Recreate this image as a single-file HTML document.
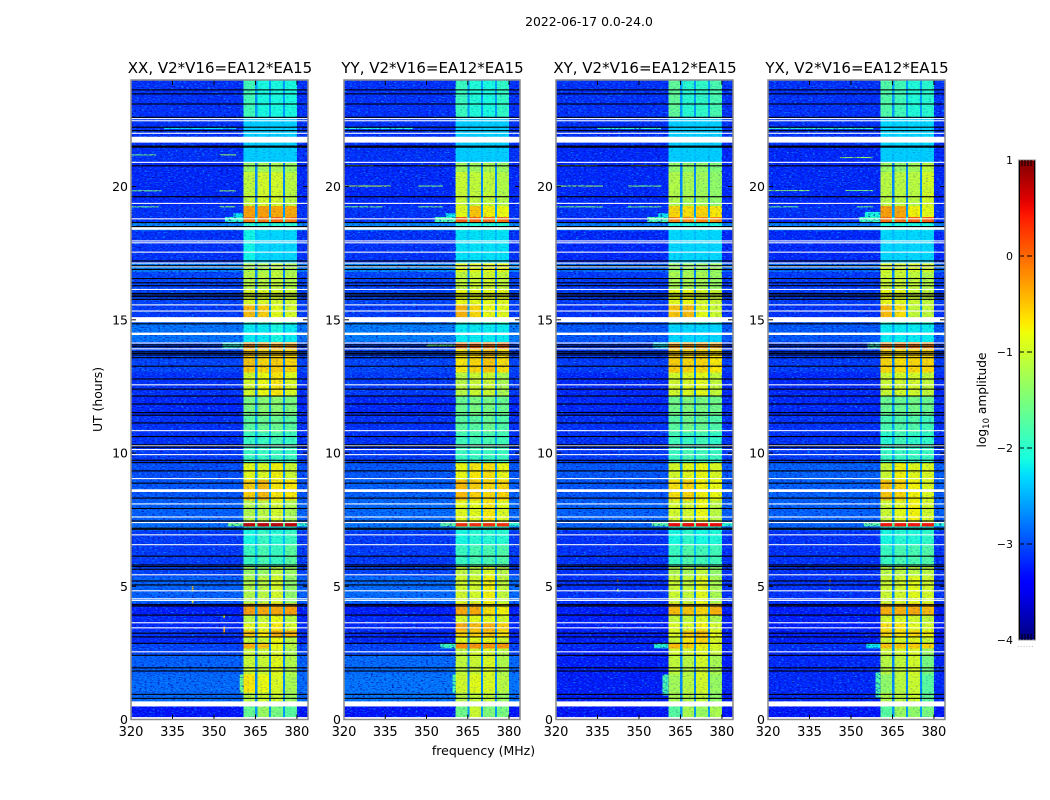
<!DOCTYPE html>
<html lang="en">
<head>
<meta charset="utf-8">
<title>2022-06-17 0.0-24.0</title>
<style>
html,body{margin:0;padding:0;background:#fff;}
svg{display:block;}
text{font-family:"DejaVu Sans","Liberation Sans",sans-serif;fill:#000;}
</style>
</head>
<body>
<svg id="figure" xmlns="http://www.w3.org/2000/svg" width="1050" height="800" viewBox="0 0 1050 800">
<defs>
<filter id="speckle-light" x="0" y="0" width="100%" height="100%" color-interpolation-filters="sRGB">
<feTurbulence type="fractalNoise" baseFrequency="0.38 0.8" numOctaves="2" seed="7"/>
<feColorMatrix type="matrix" values="0 0 0 0 0.05  0 0 0 0 0.62  0 0 0 0 1  3 0 0 0 -1.6"/>
</filter>
<filter id="speckle-dark" x="0" y="0" width="100%" height="100%" color-interpolation-filters="sRGB">
<feTurbulence type="fractalNoise" baseFrequency="0.38 0.8" numOctaves="2" seed="23"/>
<feColorMatrix type="matrix" values="0 0 0 0 0  0 0 0 0 0.02  0 0 0 0 0.62  3 0 0 0 -1.6"/>
</filter>
<linearGradient id="jet-gradient" x1="0" y1="1" x2="0" y2="0"></linearGradient>
</defs>
<rect x="0" y="0" width="1050" height="800" fill="#fff"/>
<text x="589" y="26" font-size="12.4" text-anchor="middle">2022-06-17 0.0-24.0</text>
<text x="483.5" y="755" font-size="12.5" text-anchor="middle">frequency (MHz)</text>
<text x="0" y="0" font-size="12.4" text-anchor="middle" transform="translate(102 399.5) rotate(-90)">UT (hours)</text>
<text x="0" y="0" font-size="12.2" text-anchor="middle" transform="translate(986 400) rotate(-90)">log<tspan font-size="8.5" dy="3">10</tspan><tspan dy="-3"> amplitude</tspan></text>
</svg>
<script>
const polarizations = ['XX', 'YY', 'XY', 'YX'];
const baselineLabel = 'V2*V16=EA12*EA15';
const freqTicks = [320, 335, 350, 365, 380];
const hourTicks = [0, 5, 10, 15, 20];
const colorbarTicks = [-4, -3, -2, -1, 0, 1];

/* spectral windows, MHz */
const windowStartMHz = [360.6, 365.7, 370.6, 375.6];
const windowEndMHz = [364.9, 369.9, 374.9, 380];

/* time blocks: start of each block, UT hours */
const rowStartHours = [0,0.49,1.01,1.69,2.44,2.67,2.85,3.12,3.34,3.64,3.94,4.36,5.37,5.75,6.53,7.1,7.25,7.4,8.22,8.98,9.65,10.1,10.78,11.42,12.13,13.03,13.93,14.16,14.9,15.55,16.11,16.79,17.16,18.36,18.67,18.86,19.27,20.55,20.89,21.53,22.6];

/* log10 amplitude in the channels between the windows */
const gapLevels = [-2.6,-2.7,-2.7,-2.7,-2.7,-2.6,-2.7,-2.7,-2.7,-2.7,-2.6,-2.7,-2.7,-2.4,-2.4,-2.4,-1.6,-2.6,-2.6,-2.6,-2.5,-2.5,-2.5,-2.6,-2.7,-2.7,-2.3,-2.5,-2.6,-2.7,-2.7,-2.7,-2.4,-2.4,-2.0,-2.6,-2.7,-2.7,-2.4,-2.4,-2.6];

/* log10 amplitude of the off-window channels */
const xxBackground = [-3.3,-2.85,-2.85,-2.9,-3.05,-3.05,-3.2,-3.15,-3.2,-3.2,-3.25,-2.9,-3.05,-3.1,-3.1,-2.8,-2.85,-2.9,-2.95,-3.0,-3.1,-3.15,-3.15,-3.2,-3.15,-3.05,-3.05,-2.8,-3.1,-3.05,-3.05,-2.75,-3.15,-2.7,-3.15,-3.15,-3.2,-3.2,-3.15,-3.15,-3.15];
const yyBackground = [-3.3,-2.8,-2.8,-2.85,-3.05,-3.05,-3.2,-3.2,-3.2,-3.2,-3.25,-2.85,-3.05,-3.1,-3.1,-2.75,-2.8,-2.85,-2.9,-2.95,-3.1,-3.15,-3.15,-3.2,-3.1,-3.05,-3.05,-2.75,-3.1,-3.05,-3.05,-2.7,-3.15,-2.7,-3.15,-3.15,-3.2,-3.2,-3.15,-3.15,-3.15];
const xyBackground = [-3.3,-3.25,-3.25,-3.25,-3.25,-3.2,-3.25,-3.25,-3.25,-3.25,-3.25,-3.15,-3.15,-3.15,-3.15,-2.85,-2.9,-2.9,-2.95,-2.95,-3.1,-3.15,-3.15,-3.2,-3.2,-3.1,-3.1,-2.95,-3.15,-3.1,-3.1,-2.85,-3.2,-2.75,-3.2,-3.15,-3.2,-3.2,-3.2,-3.15,-3.15];
const yxBackground = [-3.3,-3.2,-3.2,-3.2,-3.2,-3.15,-3.25,-3.25,-3.25,-3.25,-3.25,-3.15,-3.15,-3.15,-3.15,-2.85,-2.9,-2.9,-2.9,-2.9,-3.1,-3.15,-3.15,-3.2,-3.2,-3.1,-3.1,-2.95,-3.15,-3.1,-3.1,-2.85,-3.2,-2.75,-3.2,-3.15,-3.2,-3.2,-3.2,-3.15,-3.15];

/* log10 amplitude of each spectral window, one quadruple per time block */
const xxWindows = [[-1.6,-1.3,-1.5,-1.7],[-1.1,-1.0,-1.0,-1.3],[-0.7,-0.8,-0.9,-1.2],[-1.0,-1.0,-0.85,-1.15],[-1.0,-1.0,-0.9,-1.2],[-0.4,-0.5,-0.8,-1.1],[-1.0,-1.0,-0.8,-1.1],[-0.5,-0.7,-0.4,-0.4],[-0.85,-0.85,-0.7,-0.9],[-1.1,-1.0,-0.8,-1.1],[-0.3,-0.35,-0.35,-0.3],[-1.15,-1.1,-0.95,-1.35],[-1.3,-1.3,-1.1,-1.3],[-1.9,-1.8,-1.9,-1.7],[-2.1,-1.9,-2.0,-1.9],[-2.1,-2.1,-2.2,-2.1],[0.7,0.7,0.7,0.7],[-1.15,-1.1,-0.95,-1.2],[-0.55,-0.45,-0.7,-0.7],[-0.85,-0.9,-0.75,-1.0],[-1.9,-1.9,-1.9,-1.9],[-1.9,-1.9,-1.8,-1.9],[-1.7,-1.6,-1.6,-1.7],[-1.5,-1.4,-1.4,-1.5],[-0.95,-0.8,-0.7,-0.9],[-0.5,-0.6,-0.55,-0.6],[-0.2,-0.3,-0.3,-0.3],[-2.2,-2.2,-2.1,-2.2],[-0.45,-0.55,-0.85,-0.95],[-0.9,-0.9,-0.95,-1.0],[-1.1,-1.1,-1.05,-1.15],[-1.2,-1.2,-1.1,-1.2],[-2.15,-2.3,-2.3,-2.3],[-2.0,-2.0,-2.0,-2.0],[-0.1,-0.1,0,-0.1],[-0.3,-0.3,-0.35,-0.35],[-1.05,-0.95,-0.95,-1.1],[-1.3,-1.25,-1.2,-1.3],[-2.35,-2.35,-2.35,-2.35],[-2.35,-2.35,-2.35,-2.35],[-1.85,-2.1,-2.1,-2.1]];
const yyWindows = [[-1.55,-1.0,-1.45,-1.5],[-1.1,-1.05,-1.05,-1.3],[-0.95,-0.85,-0.9,-1.1],[-1.05,-1.0,-0.9,-1.15],[-1.05,-0.95,-0.9,-1.1],[-0.2,-0.25,-0.25,-0.25],[-0.85,-0.85,-0.8,-0.95],[-0.55,-0.55,-0.5,-0.65],[-0.35,-0.45,-0.4,-0.55],[-0.9,-0.85,-0.85,-0.95],[-0.35,-0.35,-0.65,-0.75],[-0.95,-0.95,-0.75,-1.05],[-1.05,-1.1,-0.9,-1.1],[-1.9,-1.8,-1.8,-1.75],[-2.1,-2.0,-2.0,-2.0],[-2.0,-2.0,-2.0,-2.0],[0.3,0.3,0.3,0.3],[-0.85,-0.85,-0.7,-0.9],[-0.45,-0.55,-0.6,-0.6],[-0.8,-0.7,-0.65,-0.8],[-1.9,-1.9,-1.9,-1.9],[-1.85,-1.8,-1.8,-1.85],[-1.7,-1.7,-1.6,-1.75],[-1.6,-1.5,-1.5,-1.6],[-1.1,-1.0,-1.0,-1.2],[-0.7,-0.6,-0.5,-0.65],[-0.05,0,-0.1,-0.05],[-2.2,-2.2,-2.2,-2.2],[-0.4,-0.6,-0.8,-0.85],[-0.8,-0.85,-0.85,-0.85],[-1.05,-1.0,-0.95,-1.05],[-0.85,-0.85,-0.85,-0.85],[-2.25,-2.25,-2.25,-2.25],[-2.05,-2.05,-2.05,-2.05],[0.05,0,-0.05,-0.05],[-0.85,-0.5,-0.75,-0.8],[-1.0,-1.05,-1.05,-1.15],[-1.25,-1.25,-1.2,-1.3],[-2.35,-2.35,-2.35,-2.35],[-2.35,-2.35,-2.35,-2.35],[-1.9,-2.05,-2.1,-1.95]];
const xyWindows = [[-1.7,-1.2,-1.3,-1.2],[-1.2,-1.15,-1.05,-1.35],[-1.25,-1.1,-0.95,-1.3],[-1.05,-1.1,-0.95,-1.2],[-0.95,-0.95,-0.85,-1.0],[-0.45,-0.55,-0.75,-0.9],[-1.0,-0.7,-0.6,-0.9],[-0.9,-0.55,-0.5,-0.85],[-0.9,-0.9,-0.75,-0.95],[-1.05,-1.05,-0.9,-1.15],[-0.45,-0.5,-0.6,-0.4],[-1.0,-1.05,-0.85,-1.2],[-1.15,-1.2,-1.05,-1.35],[-1.9,-1.75,-1.85,-1.85],[-2.1,-1.95,-2.1,-2.05],[-2.1,-2.1,-2.1,-2.1],[0.5,0.5,0.5,0.5],[-0.95,-0.95,-0.8,-1.1],[-0.65,-0.6,-0.75,-0.8],[-0.95,-0.85,-0.8,-0.9],[-1.9,-1.8,-1.85,-1.9],[-1.85,-1.9,-1.85,-1.95],[-1.7,-1.55,-1.6,-1.75],[-1.55,-1.45,-1.5,-1.55],[-0.95,-0.9,-0.85,-1.05],[-0.55,-0.6,-0.6,-0.7],[-0.3,-0.3,-0.3,-0.35],[-2.3,-2.3,-2.3,-2.3],[-0.5,-0.45,-0.85,-1.0],[-0.85,-0.8,-0.95,-1.0],[-1.2,-1.2,-1.2,-1.3],[-1.3,-1.3,-1.3,-1.3],[-2.3,-2.3,-2.3,-2.3],[-2.1,-2.1,-2.1,-2.1],[-0.15,-0.2,-0.15,-0.2],[-0.6,-0.65,-0.6,-0.7],[-1.15,-1.2,-1.25,-1.35],[-1.35,-1.35,-1.35,-1.45],[-2.35,-2.35,-2.35,-2.35],[-2.35,-2.35,-2.35,-2.35],[-1.65,-2.0,-1.95,-1.8]];
const yxWindows = [[-1.7,-1.3,-1.35,-1.5],[-1.15,-1.1,-1.0,-1.65],[-1.35,-1.1,-1.0,-1.7],[-1.1,-1.05,-0.95,-1.5],[-1.0,-0.95,-0.9,-1.3],[-0.5,-0.55,-0.55,-0.6],[-0.95,-0.9,-0.85,-1.0],[-0.6,-0.65,-0.6,-0.75],[-0.65,-0.7,-0.85,-0.95],[-0.95,-0.9,-0.95,-1.05],[-0.4,-0.4,-0.35,-0.45],[-1.0,-0.95,-0.85,-0.95],[-1.1,-1.1,-1.1,-1.1],[-1.9,-1.8,-1.8,-1.75],[-2.1,-2.0,-2.05,-1.95],[-2.1,-2.1,-2.1,-2.1],[0.45,0.45,0.45,0.45],[-1.0,-0.85,-0.75,-0.95],[-0.5,-0.6,-0.75,-0.9],[-1.0,-0.75,-0.85,-0.9],[-1.9,-1.9,-1.9,-1.9],[-2.0,-1.85,-1.95,-1.95],[-1.8,-1.75,-1.75,-1.85],[-1.6,-1.6,-1.55,-1.6],[-1.0,-0.95,-0.95,-1.05],[-0.6,-0.65,-0.6,-0.6],[-0.15,-0.1,-0.1,-0.15],[-2.2,-2.2,-2.2,-2.2],[-0.45,-0.65,-1.05,-1.05],[-0.8,-0.85,-1.0,-1.05],[-1.0,-1.0,-1.05,-1.15],[-0.95,-0.95,-0.95,-0.95],[-2.3,-2.3,-2.3,-2.3],[-2.1,-2.1,-2.1,-2.1],[-0.05,-0.05,0.05,0.05],[-0.3,-0.35,-0.75,-0.85],[-1.1,-1.1,-1.1,-0.95],[-1.3,-1.35,-1.25,-1.1],[-2.35,-2.35,-2.35,-2.35],[-2.3,-2.3,-2.3,-2.3],[-1.75,-1.85,-2.05,-2.0]];

/* interference features: start hour, end hour, start MHz, end MHz, log10 amplitude */
const xxFeatures = [[7.25,7.4,355,360.6,-1.6],[7.25,7.4,380,384,-2.0],[18.67,18.86,354,360.6,-2.0],[18.86,19.0,357,360.6,-2.2],[1.01,1.69,359.3,360.6,-1.6],[13.93,14.16,353,360.6,-2.0],[22.16,22.2,332,358,-2.2],[21.17,21.21,320,329,-1.5],[21.17,21.21,352,358,-1.3],[19.82,19.86,320,331,-1.5],[19.82,19.86,352,358,-1.3],[19.22,19.26,320,330,-1.5],[19.22,19.26,352,358,-1.4],[3.2,3.5,353.4,354,-0.3],[3.8,3.9,353.4,354,-0.8],[4.8,5.0,342,342.6,-0.5],[4.35,4.45,342,342.6,-0.8]];
const yyFeatures = [[7.25,7.4,355,360.6,-1.7],[7.25,7.4,380,384,-2.0],[18.67,18.86,353,360.6,-1.8],[18.86,19.0,357,360.6,-2.2],[1.01,1.69,359.5,360.6,-1.8],[2.67,2.85,355,360.6,-1.9],[14.0,14.09,350,360.6,-1.6],[22.16,22.2,320,345,-2.0],[20.77,20.81,320,331,-1.4],[20.77,20.81,347,356,-1.3],[20.0,20.04,320,337,-1.1],[20.0,20.04,347,356,-1.4],[19.22,19.26,320,334,-1.5],[19.22,19.26,347,356,-1.5]];
const xyFeatures = [[7.25,7.4,354.6,360.6,-1.7],[7.25,7.4,380,384,-2.0],[18.67,18.86,353,360.6,-1.8],[18.86,19.0,357,360.6,-2.2],[0.9,1.69,358.5,360.6,-1.8],[2.67,2.85,355.5,360.6,-2.0],[13.93,14.16,355,360.6,-2.2],[22.16,22.2,335,358,-1.9],[20.77,20.81,320,335,-1.2],[20.77,20.81,347,358,-1.1],[20.0,20.04,320,337,-1.3],[20.0,20.04,346,358,-1.5],[19.22,19.26,320,337,-1.5],[19.22,19.26,346,358,-1.5],[5.15,5.25,342,342.6,-0.1],[4.8,4.9,342,342.6,-1.2]];
const yxFeatures = [[7.25,7.4,354.6,360.6,-1.7],[7.25,7.4,380,384,-2.0],[18.67,18.86,353,360.6,-1.9],[18.86,19.05,355,360.6,-2.1],[0.83,1.77,358.9,360.6,-1.8],[2.67,2.85,355.5,360.6,-2.2],[13.93,14.16,356,360.6,-1.9],[22.16,22.2,320,358,-1.9],[21.07,21.11,346,358,-1.3],[19.83,19.87,320,335,-1.4],[19.83,19.87,348,358,-1.5],[19.22,19.26,320,331,-1.6],[19.22,19.26,352,358,-1.6],[5.15,5.25,342,342.6,-0.1],[4.8,4.9,342,342.6,-1.2]];

/* flagged data: white = no data, start and end in UT hours */
const blankStartHours = [0,0.49,2.52,3.42,3.61,4.45,4.51,4.81,5.41,6.54,6.91,7.37,7.58,8.07,8.54,9.02,9.92,10.11,10.26,10.82,12.54,13.89,14.11,14.43,14.91,15.31,15.54,16.12,16.97,17.11,17.52,17.87,17.94,18.38,18.77,19.35,20.89,21.65,21.98,22.45,22.53];
const blankEndHours = [0.09,0.68,2.56,3.46,3.65,4.49,4.55,4.85,5.45,6.58,6.95,7.41,7.62,8.11,8.64,9.06,9.96,10.15,10.3,10.86,12.58,13.93,14.15,14.52,15.1,15.35,15.58,16.16,17.01,17.15,17.56,17.91,17.98,18.48,18.81,19.39,20.93,21.87,22.02,22.49,22.57];

/* flagged data: black = zero amplitude, UT hours */
const zeroRowHours = [0.815,0.965,1.84,1.96,2.43,2.88,3.12,3.26,3.94,4.28,4.33,5.07,5.22,5.66,5.76,5.82,6.15,7.16,7.2,7.47,7.94,8.33,8.89,9.35,9.66,9.75,10.24,10.33,10.64,11.15,11.44,11.54,11.86,12.16,12.42,12.8,13.28,13.6,13.7,13.76,13.82,14.01,14.08,14.87,15.79,15.89,15.95,16.01,16.3,16.41,16.57,16.91,17.05,17.23,18.52,18.67,19.64,20.8,21.5,21.54,22.12,22.25,22.62,23.12,23.5,23.65];

const backgroundsByPol = [xxBackground, yyBackground, xyBackground, yxBackground];
const windowsByPol = [xxWindows, yyWindows, xyWindows, yxWindows];
const featuresByPol = [xxFeatures, yyFeatures, xyFeatures, yxFeatures];

const NS = 'http://www.w3.org/2000/svg';
const fig = document.getElementById('figure');
const panelLeft = [131, 344, 556, 768];
const panelRight = [308, 520, 733, 945];
const panelTop = 80;
const panelBottom = 719.5;
const FREQ_MIN = 320, FREQ_MAX = 384, HOUR_MIN = 0, HOUR_MAX = 24;
const LEVEL_MIN = -4, LEVEL_MAX = 1;

function xScale(p, mhz) {
  return panelLeft[p] + (mhz - FREQ_MIN) / (FREQ_MAX - FREQ_MIN) * (panelRight[p] - panelLeft[p]);
}
function yScale(hour) {
  return panelBottom - (hour - HOUR_MIN) / (HOUR_MAX - HOUR_MIN) * (panelBottom - panelTop);
}
function ramp(t, pts) {
  if (t <= pts[0][0]) return pts[0][1];
  for (let i = 1; i < pts.length; i++) {
    if (t <= pts[i][0]) {
      const a = pts[i - 1], b = pts[i];
      return a[1] + (b[1] - a[1]) * (t - a[0]) / (b[0] - a[0]);
    }
  }
  return pts[pts.length - 1][1];
}
const jetR = [[0, 0], [0.35, 0], [0.66, 1], [0.89, 1], [1, 0.5]];
const jetG = [[0, 0], [0.125, 0], [0.375, 1], [0.64, 1], [0.91, 0], [1, 0]];
const jetB = [[0, 0.5], [0.11, 1], [0.34, 1], [0.65, 0], [1, 0]];
function colorScale(level) {
  const t = Math.max(0, Math.min(1, (level - LEVEL_MIN) / (LEVEL_MAX - LEVEL_MIN)));
  const c = [jetR, jetG, jetB].map(function (s) { return Math.round(ramp(t, s) * 255); });
  return 'rgb(' + c.join(',') + ')';
}
function make(tag, attrs, parent) {
  const el = document.createElementNS(NS, tag);
  for (const k in attrs) el.setAttribute(k, attrs[k]);
  (parent || fig).appendChild(el);
  return el;
}

polarizations.forEach(function (pol, p) {
  const panel = make('g', {});
  
  

  const bg = backgroundsByPol[p];
  const win = windowsByPol[p];

  rowStartHours.forEach(function (start, r) {
    const end = r + 1 < rowStartHours.length ? rowStartHours[r + 1] : HOUR_MAX;
    const yTop = yScale(end);
    const h = yScale(start) - yTop;
    const segments = [[FREQ_MIN, windowStartMHz[0], bg[r]]];
    windowStartMHz.forEach(function (ws, w) {
      segments.push([ws, windowEndMHz[w], win[r][w]]);
      const next = w + 1 < windowStartMHz.length ? windowStartMHz[w + 1] : null;
      if (next !== null) segments.push([windowEndMHz[w], next, gapLevels[r]]);
    });
    segments.push([windowEndMHz[3], FREQ_MAX, bg[r]]);
    segments.forEach(function (s) {
      const x0 = xScale(p, s[0]);
      const cell = make('rect', { x: x0, y: yTop, width: xScale(p, s[1]) - x0, height: h, fill: colorScale(s[2]), 'shape-rendering': 'crispEdges' }, panel);
      
      
    });
  });

  featuresByPol[p].forEach(function (f) {
    const x0 = xScale(p, f[2]);
    const yTop = yScale(f[1]);
    const mark = make('rect', { x: x0, y: yTop, width: xScale(p, f[3]) - x0, height: Math.max(1, yScale(f[0]) - yTop), fill: colorScale(f[4]) }, panel);
    
    
  });

  const texLeft = panelLeft[p];
  const texWidth = panelRight[p] - panelLeft[p];
  const texHeight = panelBottom - panelTop;
  const winX = xScale(p, windowStartMHz[0]);
  const winW = xScale(p, windowEndMHz[3]) - winX;
  ['speckle-light', 'speckle-dark'].forEach(function (filterId) {
    const sideA = make('rect', { x: texLeft, y: panelTop, width: winX - texLeft, height: texHeight, filter: 'url(#' + filterId + ')' }, panel);
    
    
    const sideB = make('rect', { x: winX + winW, y: panelTop, width: texLeft + texWidth - winX - winW, height: texHeight, filter: 'url(#' + filterId + ')' }, panel);
    
    
    const mid = make('rect', { x: winX, y: panelTop, width: winW, height: texHeight, filter: 'url(#' + filterId + ')', opacity: 0.3 }, panel);
    
    
  });

  blankStartHours.forEach(function (start, i) {
    const yTop = yScale(blankEndHours[i]);
    const blank = make('rect', { x: panelLeft[p], y: yTop, width: panelRight[p] - panelLeft[p], height: yScale(start) - yTop, fill: '#fff' }, panel);
    
    
  });

  zeroRowHours.forEach(function (hour) {
    const zero = make('rect', { x: panelLeft[p], y: yScale(hour), width: panelRight[p] - panelLeft[p], height: 1.1, fill: '#000' }, panel);
    
    
  });

  freqTicks.forEach(function (tick) {
    const x = xScale(p, tick);
    [[panelBottom, panelBottom - 5], [panelTop, panelTop + 5]].forEach(function (ends) {
      const mark = make('line', { x1: x, x2: x, y1: ends[0], y2: ends[1], stroke: '#000', 'stroke-width': 1 }, panel);
      
      
    });
    const label = make('text', { x: x, y: 736, 'font-size': 13, 'text-anchor': 'middle' }, panel);
    label.textContent = String(tick);
    
    
  });

  hourTicks.forEach(function (tick) {
    const y = yScale(tick);
    [[panelLeft[p], panelLeft[p] + 5], [panelRight[p], panelRight[p] - 5]].forEach(function (ends) {
      const mark = make('line', { x1: ends[0], x2: ends[1], y1: y, y2: y, stroke: '#000', 'stroke-width': 1 }, panel);
      
      
    });
    const label = make('text', { x: panelLeft[p] - 3, y: y + 4.5, 'font-size': 12.5, 'text-anchor': 'end' }, panel);
    label.textContent = String(tick);
    
    
  });

  const spine = make('rect', { x: panelLeft[p], y: panelTop, width: panelRight[p] - panelLeft[p], height: panelBottom - panelTop, fill: 'none', stroke: '#8a8a8a', 'stroke-width': 1.5 }, panel);
  
  

  const title = make('text', { x: (panelLeft[p] + panelRight[p]) / 2 + 0.5, y: 73, 'font-size': 15, 'text-anchor': 'middle' }, panel);
  title.textContent = pol + ', ' + baselineLabel;
  
  
});

/* colorbar */
const CB_LEFT = 1019, CB_RIGHT = 1035, CB_TOP = 160, CB_BOTTOM = 640;
function cbScale(level) {
  return CB_BOTTOM - (level - LEVEL_MIN) / (LEVEL_MAX - LEVEL_MIN) * (CB_BOTTOM - CB_TOP);
}
const grad = document.getElementById('jet-gradient');
for (let i = 0; i <= 50; i++) {
  make('stop', { offset: (i * 2) + '%', 'stop-color': colorScale(LEVEL_MIN + (LEVEL_MAX - LEVEL_MIN) * i / 50) }, grad);
}
const cb = make('g', {});


const cbFill = make('rect', { x: CB_LEFT, y: CB_TOP, width: CB_RIGHT - CB_LEFT, height: CB_BOTTOM - CB_TOP, fill: 'url(#jet-gradient)' }, cb);


[CB_LEFT + 0.5, CB_RIGHT - 0.5].forEach(function (x) {
  const edge = make('line', { x1: x, x2: x, y1: CB_TOP, y2: CB_BOTTOM, stroke: '#000', 'stroke-width': 1 }, cb);
  
  
});
const cbFrame = make('rect', { x: CB_LEFT - 0.5, y: CB_TOP, width: CB_RIGHT - CB_LEFT + 1, height: CB_BOTTOM - CB_TOP, fill: 'none', stroke: '#9a9a9a', 'stroke-width': 1 }, cb);


[1022, 1025, 1028, 1031].forEach(function (x) {
  [[CB_TOP, CB_TOP + 6], [CB_BOTTOM, CB_BOTTOM - 6]].forEach(function (ends) {
    const m = make('line', { x1: x, x2: x, y1: ends[0], y2: ends[1], stroke: '#000', 'stroke-width': 1 }, cb);
    
    
  });
});
colorbarTicks.forEach(function (tick) {
  const y = cbScale(tick);
  if (tick > LEVEL_MIN && tick < LEVEL_MAX) {
    const d = make('line', { x1: CB_LEFT, x2: CB_RIGHT, y1: y, y2: y, stroke: '#000', 'stroke-width': 1, 'stroke-dasharray': '5 3' }, cb);
    
    
  }
  const label = make('text', { x: 1013, y: y + 4, 'font-size': 11, 'text-anchor': 'end' }, cb);
  label.textContent = (tick < 0 ? '\u2212' + Math.abs(tick) : String(tick));
  
  
});
const dots = make('text', { x: 1026, y: 647, 'font-size': 6, 'text-anchor': 'middle', style: 'fill:#777;letter-spacing:1px' }, cb);
dots.textContent = '......';


</script>
</body>
</html>
